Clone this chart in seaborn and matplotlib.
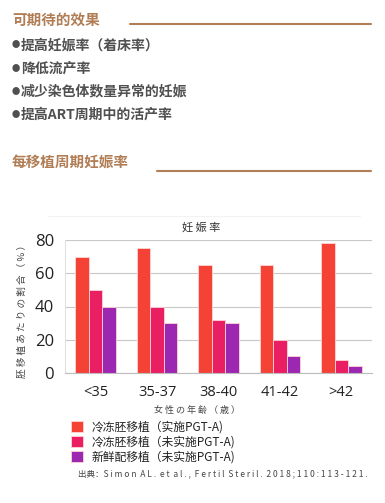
import matplotlib.pyplot as plt
import matplotlib.lines as mlines
import seaborn as sns
import pandas as pd

# DATA
ageGroups = ['<35', '35-37', '38-40', '41-42', '>42']
seriesNames = ['冷冻胚移植（实施PGT-A)', '冷冻胚移植（未实施PGT-A)', '新鲜配移植（未实施PGT-A)']
frozenPgt = [70, 75, 65, 65, 78]
frozenNoPgt = [50, 40, 32, 20, 8]
freshNoPgt = [40, 30, 30, 10, 4]
yTicks = [0, 20, 40, 60, 80]
bullets = ['提高妊娠率（着床率）', '降低流产率', '减少染色体数量异常的妊娠', '提高ART周期中的活产率']
colors = ['#F44336', '#E91E63', '#9C27B0']

rows = []
for name, vals in zip(seriesNames, [frozenPgt, frozenNoPgt, freshNoPgt]):
    for g, v in zip(ageGroups, vals):
        rows.append({'age': g, 'rate': v, 'series': name})
df = pd.DataFrame(rows)

sns.set_style('white')
plt.rcParams['font.family'] = ['Noto Sans CJK SC', 'DejaVu Sans']

fig = plt.figure(figsize=(3.85, 5.03), dpi=100)
W, H = 385, 503

def fx(px):
    return px / W

def fy(py):
    return 1 - py / H

# HEADERS
brown = '#B07D55'
fig.text(fx(12), fy(20), '可期待的效果', color=brown, fontsize=10.5, fontweight='bold', va='center')
fig.add_artist(mlines.Line2D([fx(130), fx(371)], [fy(24), fy(24)], color=brown, lw=1.5))
for i, b in enumerate(bullets):
    y = fy(45 + i * 23.3)
    fig.text(fx(16), y, '●', color='#505050', fontsize=6, ha='center', va='center')
    fig.text(fx(21), y, b, color='#505050', fontsize=10, fontweight='bold', va='center')
fig.text(fx(12), fy(163), '每移植周期妊娠率', color=brown, fontsize=10.5, fontweight='bold', va='center')
fig.add_artist(mlines.Line2D([fx(157), fx(371)], [fy(171), fy(171)], color=brown, lw=1.5))
fig.add_artist(mlines.Line2D([fx(48), fx(360)], [fy(216), fy(216)], color='#f2f2f2', lw=0.8))

# CHART
ax = fig.add_axes([fx(65), fy(373), fx(372) - fx(65), fy(240) - fy(373)])
sns.barplot(data=df, x='age', y='rate', hue='series', palette=colors, width=0.66,
            saturation=1, edgecolor='#ffd5d5', linewidth=0.6, ax=ax, legend=True)
ax.set_ylim(0, 80)
ax.set_xlim(-0.5, 4.5)
ax.set_yticks(yTicks)
ax.grid(axis='y', color='#c8c8c8', lw=0.8)
ax.set_axisbelow(True)
for s in ['top', 'right']:
    ax.spines[s].set_visible(False)
ax.spines['left'].set_color('#e0e0e0')
ax.spines['bottom'].set_color('#bdbdbd')
ax.tick_params(axis='y', labelsize=12, colors='#222222', length=0, pad=8)
ax.tick_params(axis='x', labelsize=10.5, colors='#222222', length=0, pad=9)
for lab in ax.get_xticklabels() + ax.get_yticklabels():
    lab.set_fontfamily(['Open Sans', 'DejaVu Sans'])
ax.set_xlabel('')
ax.set_ylabel('')
ax.set_title('')

handles, labels = ax.get_legend_handles_labels()
ax.get_legend().remove()
fig.legend(handles, labels, loc='upper left', bbox_to_anchor=(fx(66), fy(416)),
           frameon=False, fontsize=8.5, handlelength=1.0, handleheight=1.0,
           handletextpad=0.8, labelspacing=0.15, borderaxespad=0, labelcolor='#222222')

fig.text(fx(201), fy(228), '妊 娠 率', fontsize=8, color='#333333', ha='center', va='center')
fig.text(fx(22), fy(309), '胚 移 植 あ た り の 割 合 （ % ）', fontsize=6.9, color='#444444',
         rotation=90, ha='center', va='center')
fig.text(fx(197), fy(410), '女 性 の 年 齢 （ 歳 ）', fontsize=6.5, color='#444444', ha='center', va='center')
fig.text(fx(78), fy(474), '出典：S i m o n  A L .  e t  a l . ,  F e r t i l  S t e r i l .  2 0 1 8 ; 1 1 0 : 1 1 3 - 1 2 1 .',
         fontsize=6.1, color='#444444', ha='left', va='center')

fig.savefig('out.png', dpi=100)
